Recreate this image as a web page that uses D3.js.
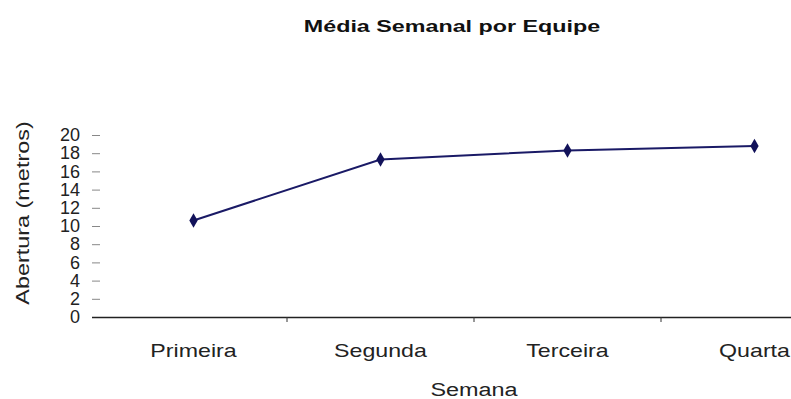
<!DOCTYPE html>
<html>
<head>
<meta charset="utf-8">
<script src="https://cdn.jsdelivr.net/npm/d3@7/dist/d3.min.js"></script>
<style>
  html, body { margin: 0; padding: 0; background: #fff; }
  svg { display: block; font-family: "Liberation Sans", Arial, sans-serif; }
</style>
</head>
<body>
<svg id="chart" width="791" height="399"></svg>
<script>
// Weekly average opening per team
const semanas = ["Primeira", "Segunda", "Terceira", "Quarta"];
const abertura = [10.6, 17.3, 18.3, 18.8];
const yTicks = [0, 2, 4, 6, 8, 10, 12, 14, 16, 18, 20];

const titulo = "Média Semanal por Equipe";
const tituloX = "Semana";
const tituloY = "Abertura (metros)";

const svg = d3.select("#chart");
const W = 791, H = 399;
const plotLeft = 92, plotRight = 848, plotTop = 135, plotBottom = 317;

const x = d3.scaleBand().domain(semanas).range([100, plotRight]).padding(0);
const y = d3.scaleLinear().domain([0, 20]).range([plotBottom, plotTop]);

// Widen a text element horizontally along its own direction
function stretch(sel, factor) {
  sel.each(function () {
    const w = this.getComputedTextLength();
    d3.select(this).attr("textLength", w * factor).attr("lengthAdjust", "spacingAndGlyphs");
  });
}

// Title
svg.append("text")
  .attr("x", 452).attr("y", 32)
  .attr("text-anchor", "middle")
  .attr("font-size", 17).attr("font-weight", "bold")
  .attr("fill", "#111")
  .text(titulo)
  .call(stretch, 1.37);

// Y axis: short ticks pointing into the plot, no spine
const gy = svg.append("g")
  .attr("transform", `translate(${plotLeft},0)`)
  .call(d3.axisLeft(y).tickValues(yTicks).tickSizeInner(-8).tickSizeOuter(0).tickPadding(12));
gy.select(".domain").remove();
gy.selectAll(".tick line").attr("stroke", "#888");
gy.selectAll(".tick text").attr("font-size", 18).attr("fill", "#222")
  .attr("font-family", "'Liberation Sans', Arial, sans-serif");
gy.selectAll(".tick").filter(d => d === 0).select("line").remove();

// X axis: category labels centred in bands, ticks on band boundaries
const gx = svg.append("g")
  .attr("transform", `translate(0,${plotBottom})`)
  .call(d3.axisBottom(x).tickSize(0).tickPadding(27));
gx.select(".domain").remove();
gx.selectAll(".tick text").attr("font-size", 19).attr("fill", "#222")
  .attr("font-family", "'Liberation Sans', Arial, sans-serif")
  .call(stretch, 1.22);

gx.append("line")
  .attr("x1", plotLeft).attr("x2", W)
  .attr("y1", 0.5).attr("y2", 0.5)
  .attr("stroke", "#222").attr("stroke-width", 1.6);
gx.selectAll(".bound")
  .data(semanas.slice(1))
  .join("line")
  .attr("class", "bound")
  .attr("x1", d => x(d)).attr("x2", d => x(d))
  .attr("y1", 0).attr("y2", 5)
  .attr("stroke", "#333");

// Axis titles
svg.append("text")
  .attr("x", 474).attr("y", 396)
  .attr("text-anchor", "middle")
  .attr("font-size", 18).attr("fill", "#222")
  .text(tituloX)
  .call(stretch, 1.3);

svg.append("text")
  .attr("transform", `translate(29,213) rotate(-90)`)
  .attr("text-anchor", "middle")
  .attr("font-size", 18).attr("fill", "#222")
  .text(tituloY)
  .call(stretch, 1.3);

// Series line and diamond markers
const cx = d => x(d) + x.bandwidth() / 2;
const linha = d3.line().x((d, i) => cx(semanas[i])).y(d => y(d));
svg.append("path")
  .datum(abertura)
  .attr("d", linha)
  .attr("fill", "none")
  .attr("stroke", "#1a1a66")
  .attr("stroke-width", 2);

svg.selectAll(".ponto")
  .data(abertura)
  .join("path")
  .attr("class", "ponto")
  .attr("d", d3.symbol().type(d3.symbolDiamond).size(60))
  .attr("transform", (d, i) => `translate(${cx(semanas[i])},${y(d)})`)
  .attr("fill", "#12125a");
</script>
</body>
</html>
